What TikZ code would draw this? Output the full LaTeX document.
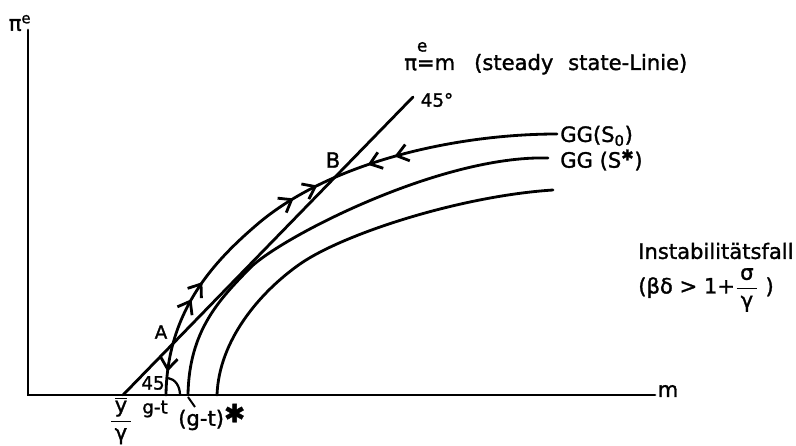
\documentclass[tikz,border=0pt]{standalone}
\usepackage{fontspec}
\setmainfont{DejaVu Sans}
\newfontfamily\lettering{DejaVu Sans}[FakeBold=1.4]
\usetikzlibrary{arrows.meta,decorations.markings}

\tikzset{vtip/.tip={Straight Barb[length=8pt,width=12pt]}}

\begin{document}
\begin{tikzpicture}[
    x=0.025cm, y=-0.025cm,
    curve/.style={line width=2pt, line cap=round},
    lbl/.style={font=\lettering\fontsize{15}{17}\selectfont, inner sep=0pt},
    small lbl/.style={font=\lettering\fontsize{13}{15}\selectfont, inner sep=0pt}
]
\useasboundingbox (0,0) rectangle (796,446);

% axes
\coordinate (O) at (28,395);
\coordinate (ytop) at (28,30);
\coordinate (xend) at (655,395);
\draw[curve] (ytop) -- (O) -- (xend);
\node[lbl] (pie) at (20,23) {π\textsuperscript{e}};
\node[lbl] (m) at (668,391) {m};

% steady state line
\coordinate (F) at (123,395);
\coordinate (T) at (413,97);
\draw[curve] (F) -- (T);
\node[small lbl] (deg) at (437,100) {45°};
\node[lbl, anchor=base west] (ssl) at (404,70)
    {π\makebox[0pt][l]{\raisebox{1.6ex}{\fontsize{12}{12}\selectfont e}}=m\hspace{0.9em}(steady\hspace{0.7em}state-Linie)};

% GG(S0) with the motion along it
\draw[curve, postaction={decorate}, decoration={markings,
    mark=at position 0.045 with {\arrowreversed{vtip}},
    mark=at position 0.193 with {\arrow{vtip}},
    mark=at position 0.232 with {\arrow{vtip}},
    mark=at position 0.472 with {\arrow{vtip}},
    mark=at position 0.524 with {\arrow{vtip}},
    mark=at position 0.629 with {\arrowreversed{vtip}},
    mark=at position 0.683 with {\arrowreversed{vtip}}}]
  (166,395) .. controls (167,310) and (215,260) .. (260,222)
            .. controls (335,160) and (460,134) .. (557,134);
\node[lbl, anchor=west] (gg0) at (560,136) {GG(S\textsubscript{0})};

% GG(S*)
\draw[curve] (188,395) .. controls (189,330) and (220,299) .. (250,268)
             .. controls (280,238) and (440,155) .. (548,158);
\node[lbl, anchor=west] (ggs) at (560,160) {GG (S\textsuperscript{✱})};

% third curve
\draw[curve] (217,395) .. controls (219,340) and (260,292) .. (300,264)
             .. controls (343,234) and (460,196) .. (553,190);

% points and marks at the axis
\coordinate (A) at (169,352);
\coordinate (B) at (338,170);
\node[small lbl] (lA) at (161,332) {A};
\node[lbl] (lB) at (333,160) {B};
\draw[line width=1.6pt] (180,395) .. controls (180,386) and (175,379) .. (168,378);
\node[small lbl] (ang) at (153,383) {45};
\draw[line width=1.4pt] (188,397) -- (195,407);
\node[small lbl] (gt) at (155,409) {g-t};
\node[lbl, anchor=west] (gts) at (178,417) {(g-t)\raisebox{0.3ex}{\fontsize{18}{18}\selectfont ✱}};
\node[lbl] (yg) at (121,421) {$\displaystyle\frac{\overline{\mbox{y}}}{\mbox{\,γ\,}}$};

% case label
\node[lbl, anchor=west] (inst) at (638,251) {Instabilitätsfall};
\node[lbl, anchor=west] (cond) at (638,290)
    {(βδ > 1+$\displaystyle\frac{\mbox{\,σ\,}}{\mbox{γ}}$ )};
\end{tikzpicture}
\end{document}
